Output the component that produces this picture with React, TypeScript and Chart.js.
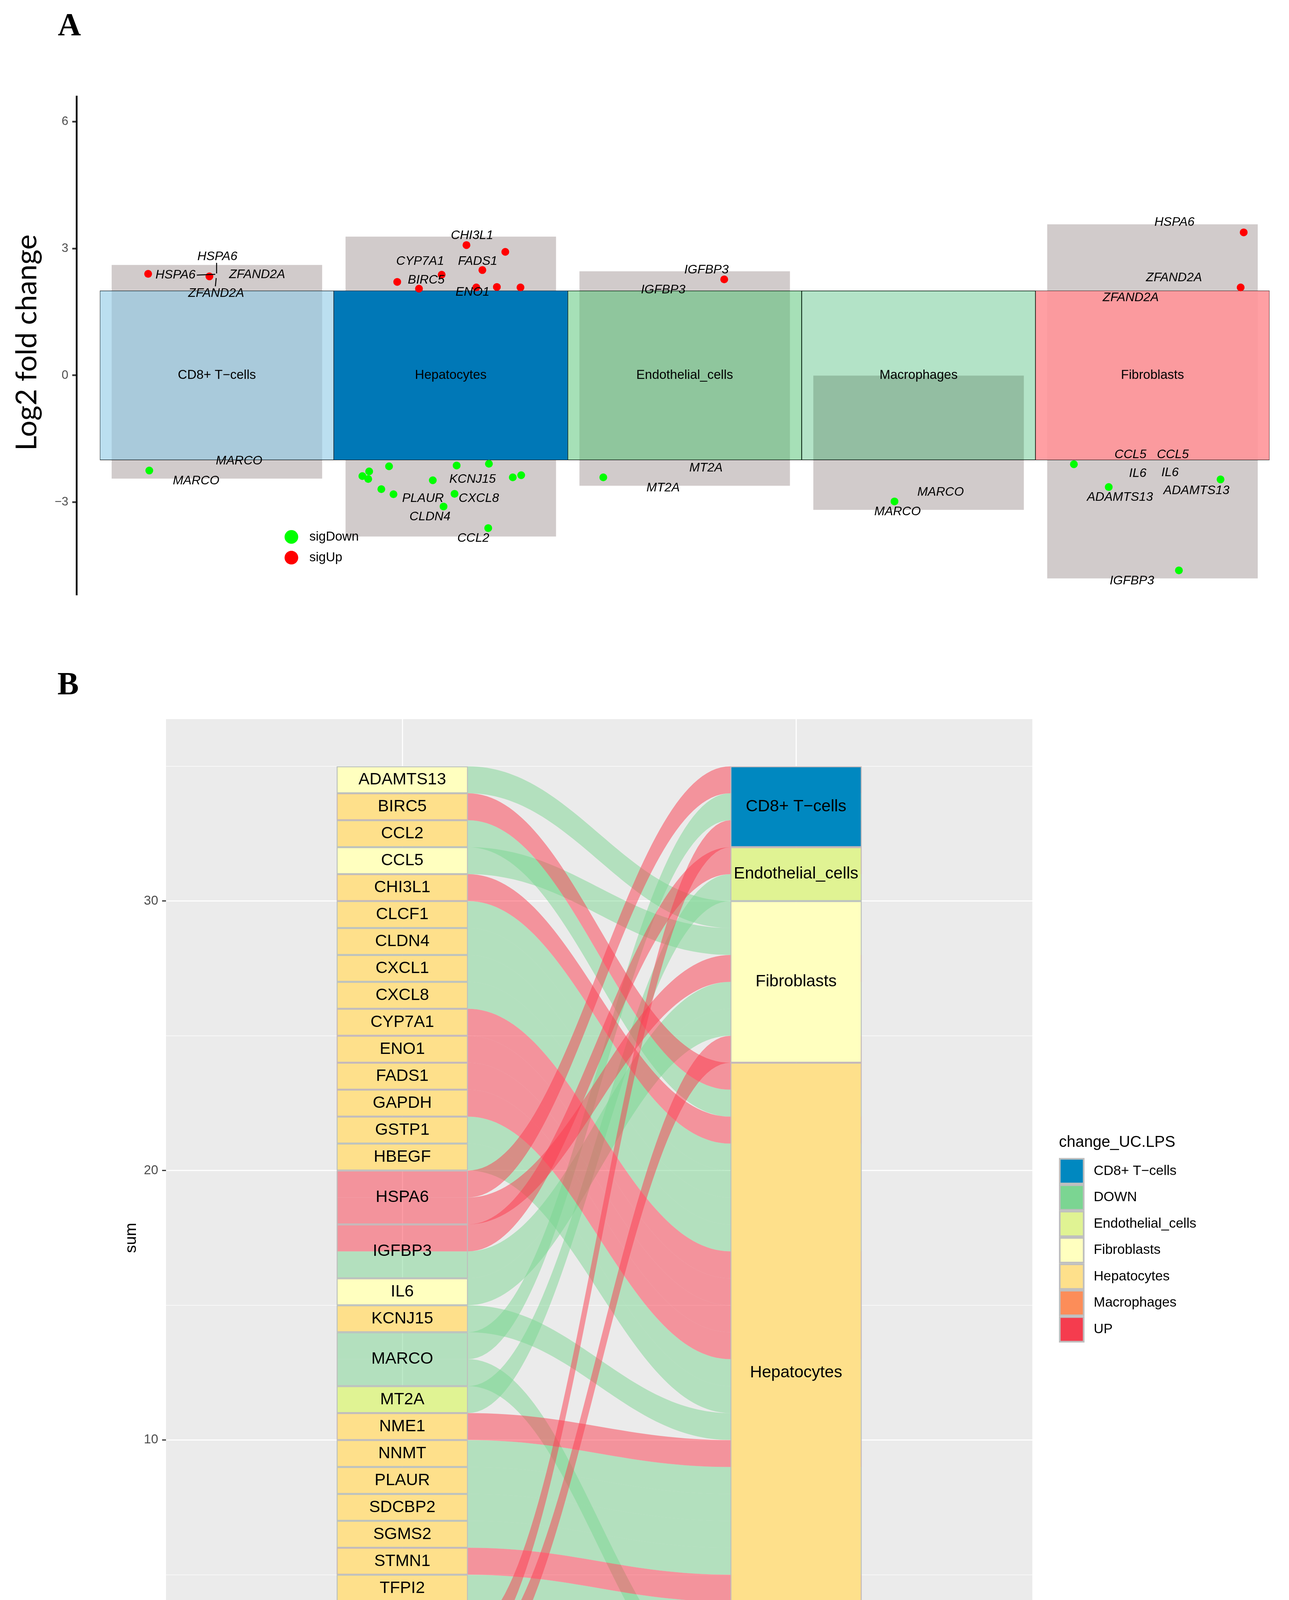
import React, { useEffect, useRef } from 'react';
import { Chart, registerables } from 'chart.js';

Chart.register(...registerables);

/* ================= Panel A data ================= */
const clusterNames = ['CD8+ T−cells', 'Hepatocytes', 'Endothelial_cells', 'Macrophages', 'Fibroblasts'];
const clusterIndex = [1, 2, 3, 4, 5];
const tileLow = [-2, -2, -2, -2, -2];
const tileHigh = [2, 2, 2, 2, 2];
const greyLow = [-2.44, -3.81, -2.61, -3.18, -4.8];
const greyHigh = [2.61, 3.28, 2.46, 0, 3.57];
const yTicksA = [-3, 0, 3, 6];

const sigUpX = [0.706, 0.968, 2.067, 2.233, 1.961, 2.135, 1.771, 1.864, 2.109, 2.197, 2.298, 3.169, 5.39, 5.377];
const sigUpY = [2.4, 2.34, 3.08, 2.92, 2.38, 2.49, 2.21, 2.05, 2.08, 2.09, 2.08, 2.27, 3.38, 2.08];
const sigDownX = [0.711, 1.622, 1.651, 1.647, 1.736, 1.703, 1.755, 1.923, 2.025, 2.163, 2.016, 1.969, 2.265, 2.301, 2.16, 2.652, 3.897, 4.664, 4.813, 5.291, 5.113];
const sigDownY = [-2.25, -2.38, -2.27, -2.45, -2.15, -2.69, -2.81, -2.48, -2.13, -2.09, -2.8, -3.1, -2.41, -2.36, -3.61, -2.41, -2.98, -2.1, -2.64, -2.46, -4.61];

const labelText = ['HSPA6', 'HSPA6', 'ZFAND2A', 'ZFAND2A', 'MARCO', 'MARCO', 'CHI3L1', 'CYP7A1', 'FADS1', 'BIRC5', 'ENO1', 'KCNJ15', 'PLAUR', 'CXCL8', 'CLDN4', 'CCL2', 'IGFBP3', 'IGFBP3', 'MT2A', 'MT2A', 'MARCO', 'MARCO', 'HSPA6', 'ZFAND2A', 'ZFAND2A', 'CCL5', 'CCL5', 'IL6', 'IL6', 'ADAMTS13', 'ADAMTS13', 'IGFBP3'];
const labelX = [0.823, 1.002, 1.172, 0.997, 1.095, 0.911, 2.091, 1.869, 2.115, 1.895, 2.093, 2.093, 1.881, 2.12, 1.911, 2.096, 3.093, 2.908, 3.091, 2.908, 4.094, 3.91, 5.094, 5.092, 4.907, 4.906, 5.087, 4.937, 5.075, 4.861, 5.188, 4.912];
const labelY = [2.373, 2.807, 2.382, 1.939, -2.023, -2.499, 3.306, 2.697, 2.697, 2.253, 1.967, -2.462, -2.913, -2.913, -3.343, -3.856, 2.488, 2.018, -2.188, -2.659, -2.761, -3.223, 3.62, 2.308, 1.837, -1.874, -1.874, -2.318, -2.299, -2.886, -2.724, -4.854];
const segX0 = [0.9987, 0.914, 0.997];
const segY0 = [2.66, 2.37, 2.3];
const segX1 = [0.9987, 0.993, 0.9935];
const segY1 = [2.41, 2.39, 2.105];
const legendA = ['sigDown', 'sigUp'];

/* ================= Panel B data ================= */
const genes = ['ADAMTS13', 'BIRC5', 'CCL2', 'CCL5', 'CHI3L1', 'CLCF1', 'CLDN4', 'CXCL1', 'CXCL8', 'CYP7A1', 'ENO1', 'FADS1', 'GAPDH', 'GSTP1', 'HBEGF', 'HSPA6', 'IGFBP3', 'IL6', 'KCNJ15', 'MARCO', 'MT2A', 'NME1', 'NNMT', 'PLAUR', 'SDCBP2', 'SGMS2', 'STMN1', 'TFPI2', 'TUBG1', 'ZFAND2A', 'ZFP36'];
const cellTypes = ['CD8+ T−cells', 'Endothelial_cells', 'Fibroblasts', 'Hepatocytes', 'Macrophages'];
const flowGene = ['HSPA6', 'MARCO', 'ZFAND2A', 'IGFBP3', 'MT2A', 'ADAMTS13', 'CCL5', 'HSPA6', 'IGFBP3', 'IL6', 'ZFAND2A', 'BIRC5', 'CCL2', 'CHI3L1', 'CLCF1', 'CLDN4', 'CXCL1', 'CXCL8', 'CYP7A1', 'ENO1', 'FADS1', 'GAPDH', 'GSTP1', 'HBEGF', 'KCNJ15', 'NME1', 'NNMT', 'PLAUR', 'SDCBP2', 'SGMS2', 'STMN1', 'TFPI2', 'TUBG1', 'ZFP36', 'MARCO'];
const flowCell = ['CD8+ T−cells', 'CD8+ T−cells', 'CD8+ T−cells', 'Endothelial_cells', 'Endothelial_cells', 'Fibroblasts', 'Fibroblasts', 'Fibroblasts', 'Fibroblasts', 'Fibroblasts', 'Fibroblasts', 'Hepatocytes', 'Hepatocytes', 'Hepatocytes', 'Hepatocytes', 'Hepatocytes', 'Hepatocytes', 'Hepatocytes', 'Hepatocytes', 'Hepatocytes', 'Hepatocytes', 'Hepatocytes', 'Hepatocytes', 'Hepatocytes', 'Hepatocytes', 'Hepatocytes', 'Hepatocytes', 'Hepatocytes', 'Hepatocytes', 'Hepatocytes', 'Hepatocytes', 'Hepatocytes', 'Hepatocytes', 'Hepatocytes', 'Macrophages'];
const flowChange = ['UP', 'DOWN', 'UP', 'UP', 'DOWN', 'DOWN', 'DOWN', 'UP', 'DOWN', 'DOWN', 'UP', 'UP', 'DOWN', 'UP', 'DOWN', 'DOWN', 'DOWN', 'DOWN', 'UP', 'UP', 'UP', 'UP', 'DOWN', 'DOWN', 'DOWN', 'UP', 'DOWN', 'DOWN', 'DOWN', 'DOWN', 'UP', 'DOWN', 'UP', 'DOWN', 'DOWN'];
const axisPos = [1, 2];
const axisNames = ['Gene', 'Cell type'];
const yTicksB = [0, 10, 20, 30];
const yGridB = [0, 5, 10, 15, 20, 25, 30, 35];
const legendB = ['CD8+ T−cells', 'DOWN', 'Endothelial_cells', 'Fibroblasts', 'Hepatocytes', 'Macrophages', 'UP'];

/* ================= Styles ================= */
const tileColors = ['rgba(142,202,230,0.6)', 'rgb(0,120,183)', 'rgba(77,193,111,0.5)', 'rgba(2,162,68,0.3)', 'rgba(255,149,153,0.9)'];
const fillB: Record<string, string> = {
  'CD8+ T−cells': '#0088C0',
  DOWN: '#7BD592',
  Endothelial_cells: '#E0F393',
  Fibroblasts: '#FFFFBF',
  Hepatocytes: '#FEE08B',
  Macrophages: '#FC8D59',
  UP: '#F53C4E',
};
const ribbonB: Record<string, string> = { UP: 'rgba(252,60,78,0.5)', DOWN: 'rgba(123,213,146,0.5)' };
const ribbonOrder = ['DOWN', 'UP'];
const SANS = '"Liberation Sans"';
const STRATUM_W = 1 / 3;

const fmtMinus = (v: number) => (v < 0 ? '−' + Math.abs(v) : String(v));

/* ================= Alluvial layout (stacking of counts) ================= */
function buildAlluvial() {
  const n = flowGene.length;
  const gi = flowGene.map((g) => genes.indexOf(g));
  const ci = flowCell.map((c) => cellTypes.indexOf(c));
  const left: number[][] = new Array(n);
  const right: number[][] = new Array(n);
  const geneStrata: any[] = [];
  let top = n;
  genes.forEach((g, k) => {
    const members = gi.map((v, i) => (v === k ? i : -1)).filter((i) => i >= 0).sort((a, b) => ci[a] - ci[b]);
    const hi = top;
    members.forEach((i) => {
      left[i] = [top - 1, top];
      top -= 1;
    });
    const cells = Array.from(new Set(members.map((i) => ci[i])));
    geneStrata.push({ label: g, lo: top, hi, fill: cells.length === 1 ? fillB[cellTypes[cells[0]]] : 'rgba(0,0,0,0)' });
  });
  const cellStrata: any[] = [];
  top = n;
  cellTypes.forEach((c, k) => {
    const members = ci.map((v, i) => (v === k ? i : -1)).filter((i) => i >= 0).sort((a, b) => gi[a] - gi[b]);
    const hi = top;
    members.forEach((i) => {
      right[i] = [top - 1, top];
      top -= 1;
    });
    cellStrata.push({ label: c, lo: top, hi, fill: fillB[c] });
  });
  return { left, right, geneStrata, cellStrata };
}

/* ================= Chart A ================= */
function makeChartA(canvas: HTMLCanvasElement) {
  const plugA = {
    id: 'panelA',
    afterDatasetsDraw(chart: any) {
      const { ctx } = chart;
      const xs = chart.scales.x;
      const ys = chart.scales.y;
      ctx.save();
      ctx.fillStyle = '#000';
      ctx.textAlign = 'center';
      ctx.textBaseline = 'middle';
      ctx.font = `33px ${SANS}`;
      clusterNames.forEach((name, i) => {
        ctx.fillText(name, xs.getPixelForValue(clusterIndex[i]), ys.getPixelForValue(0));
      });
      ctx.strokeStyle = '#000';
      ctx.lineWidth = 2.5;
      segX0.forEach((_, i) => {
        ctx.beginPath();
        ctx.moveTo(xs.getPixelForValue(segX0[i]), ys.getPixelForValue(segY0[i]));
        ctx.lineTo(xs.getPixelForValue(segX1[i]), ys.getPixelForValue(segY1[i]));
        ctx.stroke();
      });
      ctx.font = `italic 32px ${SANS}`;
      labelText.forEach((t, i) => {
        ctx.fillText(t, xs.getPixelForValue(labelX[i]), ys.getPixelForValue(labelY[i]));
      });
      ctx.restore();
    },
    afterDraw(chart: any) {
      const { ctx } = chart;
      ctx.save();
      ctx.fillStyle = '#000';
      ctx.font = `bold 82px "Liberation Serif"`;
      ctx.textAlign = 'left';
      ctx.textBaseline = 'alphabetic';
      ctx.fillText('A', 148, 90);
      ctx.save();
      ctx.translate(93, 877);
      ctx.rotate(-Math.PI / 2);
      ctx.textAlign = 'center';
      ctx.font = `74px Lato`;
      ctx.fillText('Log2 fold change', 0, 0);
      ctx.restore();
      const cols = ['#00FF00', '#FF0000'];
      legendA.forEach((name, i) => {
        const cy = 1374.5 + i * 53.1;
        ctx.beginPath();
        ctx.arc(746, cy, 17.5, 0, Math.PI * 2);
        ctx.fillStyle = cols[i];
        ctx.fill();
        ctx.fillStyle = '#000';
        ctx.font = `33px ${SANS}`;
        ctx.textAlign = 'left';
        ctx.textBaseline = 'middle';
        ctx.fillText(name, 792, cy);
      });
      ctx.restore();
    },
  };

  return new Chart(canvas, {
    type: 'bar',
    data: {
      datasets: [
        {
          type: 'bar',
          label: 'range',
          data: clusterIndex.map((x, i) => ({ x, y: [greyLow[i], greyHigh[i]] })),
          backgroundColor: '#D1CBCB',
          borderWidth: 0,
          barPercentage: 0.9,
          categoryPercentage: 1,
          grouped: false,
          order: 3,
        } as any,
        {
          type: 'bar',
          label: 'cluster',
          data: clusterIndex.map((x, i) => ({ x, y: [tileLow[i], tileHigh[i]] })),
          backgroundColor: tileColors,
          borderColor: '#000000',
          borderWidth: 0.8,
          borderSkipped: false,
          barPercentage: 1,
          categoryPercentage: 1,
          grouped: false,
          order: 2,
        } as any,
        {
          type: 'scatter',
          label: 'sigDown',
          data: sigDownX.map((x, i) => ({ x, y: sigDownY[i] })),
          pointRadius: 10,
          pointBackgroundColor: '#00FF00',
          pointBorderWidth: 0,
          order: 1,
        } as any,
        {
          type: 'scatter',
          label: 'sigUp',
          data: sigUpX.map((x, i) => ({ x, y: sigUpY[i] })),
          pointRadius: 10,
          pointBackgroundColor: '#FF0000',
          pointBorderWidth: 0,
          order: 1,
        } as any,
      ],
    },
    options: {
      responsive: false,
      animation: false,
      devicePixelRatio: 1,
      events: [],
      layout: { padding: { left: 0, right: 0, top: 247, bottom: 127 } },
      plugins: { legend: { display: false }, tooltip: { enabled: false } },
      scales: {
        x: {
          type: 'linear',
          min: 0.4,
          max: 5.567,
          offset: false,
          display: false,
          afterBuildTicks: (s: any) => {
            s.ticks = clusterIndex.map((v) => ({ value: v }));
          },
        },
        y: {
          type: 'linear',
          min: -5.19,
          max: 6.593,
          afterBuildTicks: (s: any) => {
            s.ticks = yTicksA.map((v) => ({ value: v }));
          },
          afterFit: (s: any) => {
            s.width = 196;
          },
          ticks: {
            callback: (v: any) => fmtMinus(Number(v)),
            color: '#4D4D4D',
            font: { family: SANS, size: 31 },
            padding: 10,
            autoSkip: false,
          },
          grid: { drawOnChartArea: false, drawTicks: true, tickLength: 11, tickColor: '#333333', tickWidth: 4.3 },
          border: { display: true, color: '#000000', width: 4.5 },
        },
      },
    } as any,
    plugins: [plugA],
  });
}

/* ================= Chart B ================= */
function makeChartB(canvas: HTMLCanvasElement) {
  const lay = buildAlluvial();

  const plugB = {
    id: 'panelB',
    beforeDraw(chart: any) {
      const { ctx, chartArea } = chart;
      ctx.save();
      ctx.fillStyle = '#EBEBEB';
      ctx.fillRect(chartArea.left, chartArea.top, chartArea.right - chartArea.left, chartArea.bottom - chartArea.top);
      ctx.restore();
    },
    beforeDatasetsDraw(chart: any) {
      const { ctx } = chart;
      const xs = chart.scales.x;
      const ys = chart.scales.y;
      const xl0 = xs.getPixelForValue(axisPos[0] - STRATUM_W / 2);
      const xl1 = xs.getPixelForValue(axisPos[0] + STRATUM_W / 2);
      const xr0 = xs.getPixelForValue(axisPos[1] - STRATUM_W / 2);
      const xr1 = xs.getPixelForValue(axisPos[1] + STRATUM_W / 2);
      const c = 0.4 * (xr0 - xl1);
      ctx.save();
      ribbonOrder.forEach((kind) => {
        flowGene.forEach((_, i) => {
          if (flowChange[i] !== kind) return;
          const lt = ys.getPixelForValue(lay.left[i][1]);
          const lb = ys.getPixelForValue(lay.left[i][0]);
          const rt = ys.getPixelForValue(lay.right[i][1]);
          const rb = ys.getPixelForValue(lay.right[i][0]);
          ctx.beginPath();
          ctx.moveTo(xl0, lt);
          ctx.lineTo(xl1, lt);
          ctx.bezierCurveTo(xl1 + c, lt, xr0 - c, rt, xr0, rt);
          ctx.lineTo(xr1, rt);
          ctx.lineTo(xr1, rb);
          ctx.lineTo(xr0, rb);
          ctx.bezierCurveTo(xr0 - c, rb, xl1 + c, lb, xl1, lb);
          ctx.lineTo(xl0, lb);
          ctx.closePath();
          ctx.fillStyle = ribbonB[kind];
          ctx.fill();
        });
      });
      ctx.restore();
    },
    afterDatasetsDraw(chart: any) {
      const { ctx } = chart;
      const xs = chart.scales.x;
      const ys = chart.scales.y;
      ctx.save();
      ctx.fillStyle = '#000';
      ctx.textAlign = 'center';
      ctx.textBaseline = 'middle';
      ctx.font = `42.5px ${SANS}`;
      lay.geneStrata.forEach((s: any) => {
        ctx.fillText(s.label, xs.getPixelForValue(axisPos[0]), ys.getPixelForValue((s.lo + s.hi) / 2));
      });
      lay.cellStrata.forEach((s: any) => {
        ctx.fillText(s.label, xs.getPixelForValue(axisPos[1]), ys.getPixelForValue((s.lo + s.hi) / 2));
      });
      ctx.restore();
    },
    afterDraw(chart: any) {
      const { ctx, chartArea } = chart;
      const xs = chart.scales.x;
      ctx.save();
      ctx.fillStyle = '#000';
      ctx.font = `bold 82px "Liberation Serif"`;
      ctx.textAlign = 'left';
      ctx.textBaseline = 'alphabetic';
      ctx.fillText('B', 147, 127);
      // x axis labels
      ctx.font = `68px Lato`;
      ctx.textAlign = 'center';
      axisNames.forEach((name, k) => {
        ctx.fillText(name, xs.getPixelForValue(axisPos[k]), chartArea.bottom + 60);
      });
      // y title
      ctx.save();
      ctx.translate(337, (chartArea.top + chartArea.bottom) / 2);
      ctx.rotate(-Math.PI / 2);
      ctx.textAlign = 'center';
      ctx.textBaseline = 'middle';
      ctx.font = `41px ${SANS}`;
      ctx.fillText('sum', 0, 0);
      ctx.restore();
      // legend
      const lx = 2711;
      const ltop = 1314.4;
      const kw = 65.5;
      const kh = 67.5;
      const ins = 4.3;
      ctx.font = `40px ${SANS}`;
      ctx.textAlign = 'left';
      ctx.textBaseline = 'alphabetic';
      ctx.fillText('change_UC.LPS', lx, 1286);
      ctx.font = `35px ${SANS}`;
      ctx.textBaseline = 'middle';
      legendB.forEach((name, i) => {
        const ky = ltop + i * kh;
        ctx.fillStyle = '#BEBEBE';
        ctx.fillRect(lx, ky, kw, kh);
        ctx.fillStyle = fillB[name];
        ctx.fillRect(lx + ins, ky + ins, kw - 2 * ins, kh - 2 * ins);
        ctx.fillStyle = '#000';
        ctx.fillText(name, 2800, ky + kh / 2);
      });
      ctx.restore();
    },
  };

  return new Chart(canvas, {
    type: 'bar',
    data: {
      datasets: [
        {
          type: 'bar',
          label: 'Gene',
          data: lay.geneStrata.map((s: any) => ({ x: axisPos[0], y: [s.lo, s.hi] })),
          backgroundColor: lay.geneStrata.map((s: any) => s.fill),
          borderColor: '#BEBEBE',
          borderWidth: 2.5,
          borderSkipped: false,
          barPercentage: STRATUM_W,
          categoryPercentage: 1,
          grouped: false,
        } as any,
        {
          type: 'bar',
          label: 'Cell type',
          data: lay.cellStrata.map((s: any) => ({ x: axisPos[1], y: [s.lo, s.hi] })),
          backgroundColor: lay.cellStrata.map((s: any) => s.fill),
          borderColor: '#BEBEBE',
          borderWidth: 2.5,
          borderSkipped: false,
          barPercentage: STRATUM_W,
          categoryPercentage: 1,
          grouped: false,
        } as any,
      ],
    },
    options: {
      responsive: false,
      animation: false,
      devicePixelRatio: 1,
      events: [],
      layout: { padding: { left: 0, right: 657, top: 191, bottom: 0 } },
      plugins: { legend: { display: false }, tooltip: { enabled: false } },
      scales: {
        x: {
          type: 'linear',
          min: 0.4,
          max: 2.6,
          offset: false,
          afterBuildTicks: (s: any) => {
            s.ticks = axisPos.map((v) => ({ value: v }));
          },
          afterFit: (s: any) => {
            s.height = 117;
          },
          ticks: { display: false, maxRotation: 0, minRotation: 0, autoSkip: false },
          grid: { color: '#FFFFFF', lineWidth: 2.7, drawTicks: false, offset: false },
          border: { display: false },
        },
        y: {
          type: 'linear',
          min: -1.75,
          max: 36.75,
          afterBuildTicks: (s: any) => {
            s.ticks = yGridB.map((v) => ({ value: v }));
          },
          afterFit: (s: any) => {
            s.width = 425;
          },
          ticks: {
            callback: (v: any) => (yTicksB.includes(Number(v)) ? String(v) : ''),
            color: '#4D4D4D',
            font: { family: SANS, size: 33 },
            padding: 10,
            autoSkip: false,
          },
          grid: {
            color: '#FFFFFF',
            lineWidth: (c: any) => (c.tick && yTicksB.includes(c.tick.value) ? 2.7 : 1.35),
            tickColor: (c: any) => (c.tick && yTicksB.includes(c.tick.value) ? '#333333' : 'rgba(0,0,0,0)'),
            tickLength: 10,
            tickWidth: 3,
          },
          border: { display: false },
        },
      },
    } as any,
    plugins: [plugB],
  });
}

export default function App() {
  const refA = useRef<HTMLCanvasElement>(null);
  const refB = useRef<HTMLCanvasElement>(null);
  useEffect(() => {
    document.body.style.margin = '0';
    const a = makeChartA(refA.current as HTMLCanvasElement);
    const b = makeChartB(refB.current as HTMLCanvasElement);
    return () => {
      a.destroy();
      b.destroy();
    };
  }, []);
  return (
    <div style={{ position: 'relative', width: 3300, height: 4614, background: '#ffffff', overflow: 'hidden' }}>
      <canvas ref={refA} width={3300} height={1650} style={{ position: 'absolute', left: 0, top: 0, width: 3300, height: 1650 }} />
      <canvas ref={refB} width={3300} height={2964} style={{ position: 'absolute', left: 0, top: 1650, width: 3300, height: 2964 }} />
    </div>
  );
}
